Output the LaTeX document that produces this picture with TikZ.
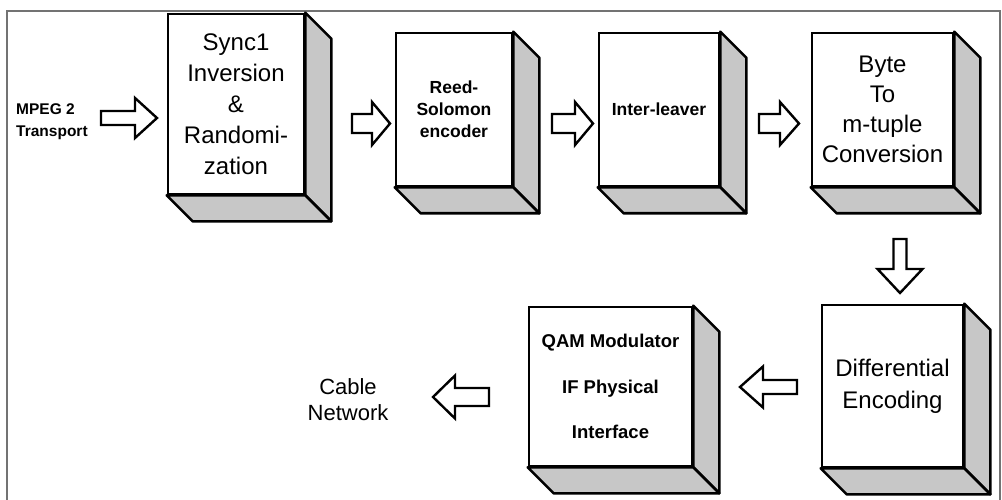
\documentclass[tikz,border=0pt]{standalone}
\usepackage{fontspec}
\setmainfont{Liberation Sans}
\usetikzlibrary{calc}
\tikzset{
  front/.style={draw, fill=white, line width=2.6pt, line join=miter, inner sep=0pt, align=center},
  side/.style={draw, fill=black!22, line width=2.6pt, line join=round},
  barrowline/.style={draw, fill=white, line width=2.4pt, line join=miter},
  frameline/.style={draw=black!55, line width=1.4pt},
  pics/barrow/.style args={#1/#2/#3/#4}{code={
    \path[barrowline] (0,-#2) -- ({#1-#4},-#2) -- ({#1-#4},-#3) -- (#1,0)
      -- ({#1-#4},#3) -- ({#1-#4},#2) -- (0,#2) -- cycle;
  }},
}
\newcommand\boxsides[1]{%
  \path[side] (#1.north east) -- ++(26,26) -- ($(#1.south east)+(26,26)$) -- (#1.south east) -- cycle;
  \path[side] (#1.south west) -- ++(26,26) -- ($(#1.south east)+(26,26)$) -- (#1.south east) -- cycle;
}
\begin{document}
\begin{tikzpicture}[x=1pt,y=-1pt]
\useasboundingbox (0,0) rectangle (1002,500);
% frame
\coordinate (fbl) at (7,500);
\coordinate (ftl) at (7,11);
\coordinate (ftr) at (1000,11);
\coordinate (fbr) at (1000,500);
\draw[frameline] (fbl) -- (ftl) -- (ftr) -- (fbr);

% boxes
\node[front, minimum width=136pt, minimum height=180pt, font=\fontsize{24}{31}\selectfont]
  (b1) at (236,104) {Sync1\\Inversion\\\&\\Randomi-\\zation};
\boxsides{b1}
\node[front, minimum width=116pt, minimum height=153pt, font=\bfseries\fontsize{17.5}{22}\selectfont]
  (b2) at (454,109.5) {Reed-\\Solomon\\encoder};
\boxsides{b2}
\node[front, minimum width=120pt, minimum height=153pt, font=\bfseries\fontsize{17.5}{22}\selectfont]
  (b3) at (659,109.5) {Inter-leaver};
\boxsides{b3}
\node[front, minimum width=141pt, minimum height=153pt, font=\fontsize{24}{30}\selectfont]
  (b4) at (882.5,109.5) {Byte\\To\\m-tuple\\Conversion};
\boxsides{b4}
\node[front, minimum width=141pt, minimum height=162pt, font=\fontsize{24}{32}\selectfont]
  (b5) at (892.5,386) {Differential\\Encoding};
\boxsides{b5}
\node[front, minimum width=163pt, minimum height=159pt, font=\bfseries\fontsize{18.5}{45.5}\selectfont]
  (b6) at (610.5,386.5) {QAM Modulator\\IF Physical\\Interface};
\boxsides{b6}

% text labels
\node[anchor=west, align=left, inner sep=0pt, font=\bfseries\fontsize{15.5}{22}\selectfont]
  (mpeg) at (16,122) {MPEG 2\\Transport};
\node[align=center, inner sep=0pt, font=\fontsize{22}{26}\selectfont]
  (cable) at (348,400) {Cable\\Network};

% block arrows
\pic (a1) at (101,118) {barrow=56/7/20/22};
\pic (a2) at (352,123.5) {barrow=38/9.5/21.5/18};
\pic (a3) at (552,123.5) {barrow=41/9.5/21.5/18};
\pic (a4) at (759,123.5) {barrow=40/9.5/21.5/19};
\pic[rotate=-90] (a5) at (900,239) {barrow=54/6.5/22.5/24};
\pic[rotate=180] (a6) at (797,387) {barrow=57/7/20.5/23};
\pic[rotate=180] (a7) at (489,397) {barrow=56/9/21.5/22};
\end{tikzpicture}
\end{document}
